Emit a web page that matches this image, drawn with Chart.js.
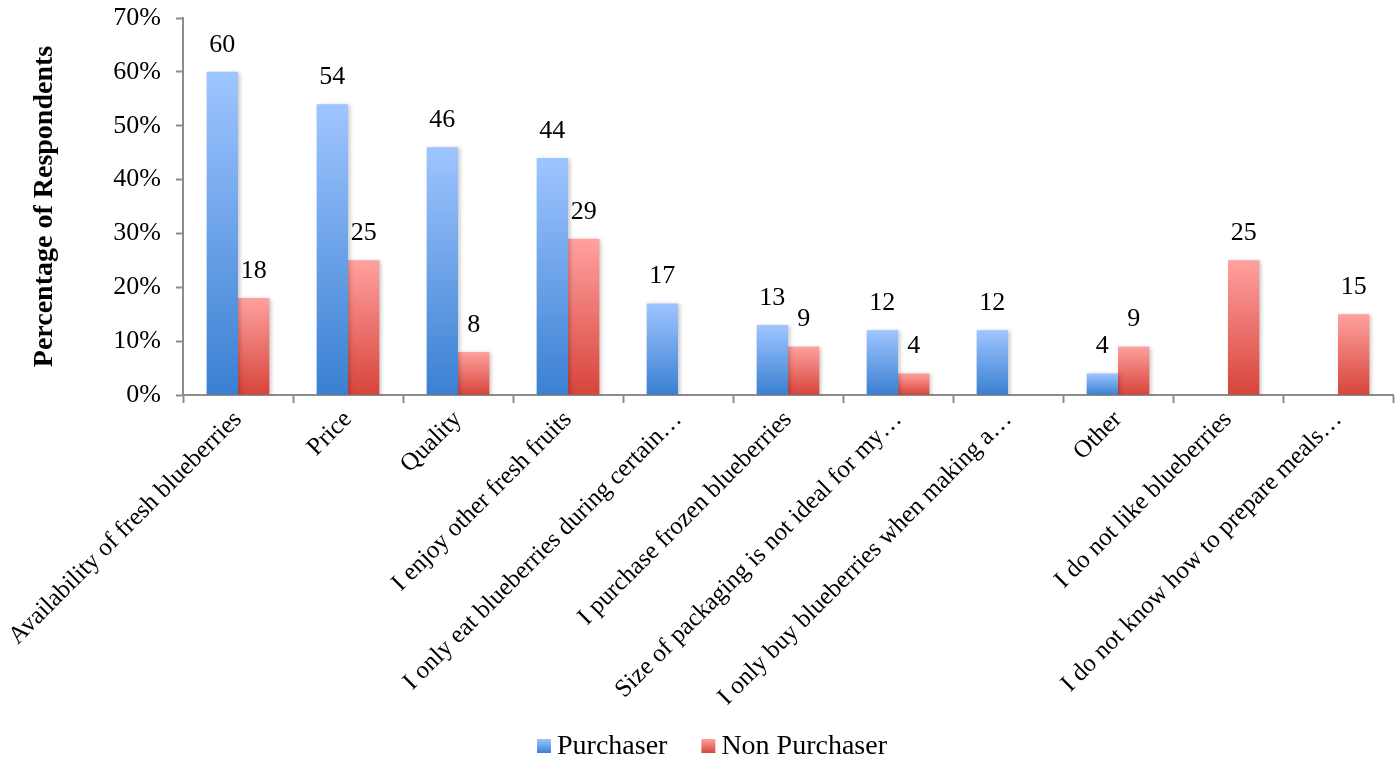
<!DOCTYPE html>
<html>
<head>
<meta charset="utf-8">
<script src="https://cdn.jsdelivr.net/npm/chart.js@4/dist/chart.umd.min.js"></script>
<style>
  html, body { margin: 0; padding: 0; background: #fff; }
  #wrap { width: 1400px; height: 762px; }
</style>
</head>
<body>
<div id="wrap"><canvas id="myChart"></canvas></div>
<script>
let reasons = [
    "Availability of fresh blueberries",
    "Price",
    "Quality",
    "I enjoy other fresh fruits",
    "I only eat blueberries during certain…",
    "I purchase frozen blueberries",
    "Size of packaging is not ideal for my…",
    "I only buy blueberries when making a…",
    "Other",
    "I do not like blueberries",
    "I do not know how to prepare meals…"
]
let purchaser = [60, 54, 46, 44, 17, 13, 12, 12, 4, null, null]
let nonPurchaser = [18, 25, 8, 29, null, 9, 4, null, 9, 25, 15]
let yTicks = [0, 10, 20, 30, 40, 50, 60, 70]

let serif = "'Liberation Serif', 'DejaVu Serif', serif"
let axisGray = "#8c8c8c"
let blue = ["#9fc5ff", "#3a80d2"]
let red = ["#ffa19f", "#d7443a"]

// each bar gets its own top-to-bottom gradient
function barFill(cols){
    return function(c){
        let chart = c.chart
        if(c.type !== "data" || !chart.chartArea || c.raw == null){
            return cols[1]
        }
        let y = chart.scales.y
        let top = y.getPixelForValue(c.raw)
        let bottom = y.getPixelForValue(0)
        let g = chart.ctx.createLinearGradient(0, top, 0, bottom)
        g.addColorStop(0, cols[0])
        g.addColorStop(1, cols[1])
        return g
    }
}

let barExtras = {
    id: "barExtras",
    beforeDatasetsDraw(chart){
        let ctx = chart.ctx
        ctx.save()
        ctx.shadowColor = "rgba(0,0,0,0.22)"
        ctx.shadowBlur = 4
        ctx.shadowOffsetX = 2
        ctx.shadowOffsetY = 1
    },
    afterDatasetsDraw(chart){
        let ctx = chart.ctx
        ctx.restore()
        ctx.save()
        ctx.font = "26px " + serif
        ctx.fillStyle = "#000"
        ctx.textAlign = "center"
        ctx.textBaseline = "middle"
        chart.data.datasets.forEach((ds, i) => {
            chart.getDatasetMeta(i).data.forEach((bar, j) => {
                let v = ds.data[j]
                if(v == null) return
                ctx.fillText(String(v), bar.x, bar.y - 27)
            })
        })
        ctx.restore()
    },
    // legend along the bottom, boxes shaded like the bars
    afterDraw(chart){
        let ctx = chart.ctx
        let box = 14, gap = 6, spacing = 34
        let cy = 746
        ctx.save()
        ctx.font = "28px " + serif
        ctx.textBaseline = "middle"
        ctx.textAlign = "left"
        let items = chart.data.datasets.map(ds => ({
            text: ds.label,
            cols: ds.legendCols,
            w: box + gap + ctx.measureText(ds.label).width
        }))
        let total = items.reduce((s, it) => s + it.w, 0) + spacing * (items.length - 1)
        let x = 712 - total / 2
        items.forEach(it => {
            let g = ctx.createLinearGradient(0, cy - box / 2, 0, cy + box / 2)
            g.addColorStop(0, it.cols[0])
            g.addColorStop(1, it.cols[1])
            ctx.fillStyle = g
            ctx.fillRect(x, cy - box / 2, box, box)
            ctx.fillStyle = "#000"
            ctx.fillText(it.text, x + box + gap, cy + 1)
            x += it.w + spacing
        })
        ctx.restore()
    }
}

new Chart($("myChart"), {
    type: "bar",
    data: {
        labels: reasons,
        datasets: [
            {
                label: "Purchaser",
                data: purchaser,
                backgroundColor: barFill(blue),
                legendCols: blue,
                borderWidth: 0
            },
            {
                label: "Non Purchaser",
                data: nonPurchaser,
                backgroundColor: barFill(red),
                legendCols: red,
                borderWidth: 0
            }
        ]
    },
    options: {
        responsive: true,
        maintainAspectRatio: false,
        animation: false,
        layout: { padding: { top: 18, right: 7, left: 0, bottom: 0 } },
        datasets: {
            bar: { categoryPercentage: 0.57, barPercentage: 1.0 }
        },
        plugins: {
            tooltip: { enabled: false },
            legend: { display: false }
        },
        scales: {
            x: {
                grid: {
                    display: true,
                    offset: true,
                    drawOnChartArea: false,
                    drawTicks: true,
                    tickLength: 8,
                    tickWidth: 2,
                    tickColor: axisGray
                },
                border: { color: axisGray, width: 2 },
                ticks: {
                    autoSkip: false,
                    minRotation: 45,
                    maxRotation: 45,
                    color: "#000",
                    padding: 2,
                    font: { family: serif, size: 25 }
                },
                afterFit(scale){
                    scale.height = 367
                    scale.paddingLeft = 0
                    scale.paddingRight = 0
                }
            },
            y: {
                min: 0,
                max: 70,
                afterBuildTicks(scale){
                    scale.ticks = yTicks.map(v => ({ value: v }))
                },
                grid: {
                    display: true,
                    drawOnChartArea: false,
                    tickLength: 7,
                    tickWidth: 2,
                    tickColor: axisGray
                },
                border: { color: axisGray, width: 2 },
                ticks: {
                    color: "#000",
                    padding: 15,
                    font: { family: serif, size: 26 },
                    callback: v => v + "%"
                },
                title: {
                    display: true,
                    text: "Percentage of Respondents",
                    color: "#000",
                    font: { family: serif, size: 28, weight: "bold" },
                    padding: { top: 28, bottom: 0 }
                },
                afterFit(scale){
                    scale.width = 183
                    scale.paddingTop = 0
                    scale.paddingBottom = 0
                }
            }
        }
    },
    plugins: [barExtras]
})

function $(id){ return document.getElementById(id) }
</script>
</body>
</html>
